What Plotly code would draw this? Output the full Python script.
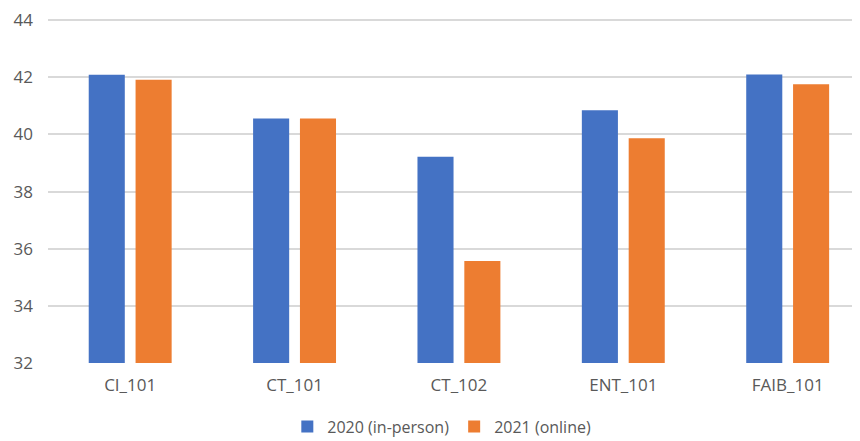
import plotly.graph_objects as go

categories = ["CI_101", "CT_101", "CT_102", "ENT_101", "FAIB_101"]
values_2020 = [42.09, 40.56, 39.22, 40.85, 42.10]
values_2021 = [41.91, 40.56, 35.57, 39.87, 41.76]
series_names = ["2020 (in-person)", "2021 (online)"]
y_ticks = [32, 34, 36, 38, 40, 42, 44]

font_family = "Open Sans, Liberation Sans, sans-serif"
grey = "#595959"

fig = go.Figure()
fig.add_trace(go.Bar(x=categories, y=values_2020, name=series_names[0],
                     marker=dict(color="#4472C4", line=dict(width=0))))
fig.add_trace(go.Bar(x=categories, y=values_2021, name=series_names[1],
                     marker=dict(color="#ED7D31", line=dict(width=0))))

fig.update_layout(
    width=852, height=433,
    margin=dict(l=40, r=0, t=11, b=78, autoexpand=False),
    paper_bgcolor="white", plot_bgcolor="white",
    barmode="group", bargap=0.43, bargroupgap=0.23,
    font=dict(family=font_family, color=grey, size=17),
    showlegend=True,
    legend=dict(orientation="h", x=0.485, xanchor="center", y=-0.185, yanchor="middle",
                font=dict(size=16, color=grey), traceorder="normal"),
    xaxis=dict(range=[-0.5, 4.44], showgrid=False, showline=False, zeroline=False,
               ticks="", tickfont=dict(size=17, color=grey), ticklabelstandoff=10),
    yaxis=dict(range=[32, 44.04], tickvals=y_ticks, showgrid=True, gridcolor="#D9D9D9",
               gridwidth=1.5, zeroline=False, showline=False, ticks="",
               tickfont=dict(size=17, color=grey), ticklabelstandoff=14),
)

fig.write_html("out.html")
